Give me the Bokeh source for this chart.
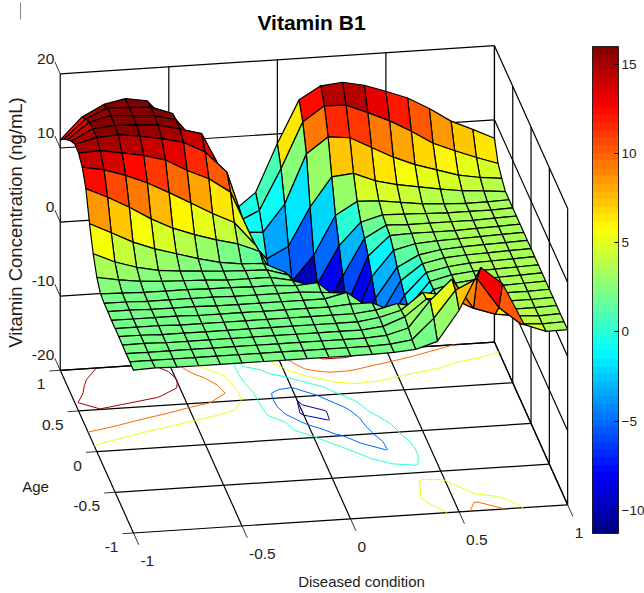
import numpy as np
from bokeh.plotting import figure
from bokeh.models import ColorBar, LinearColorMapper, FixedTicker
from bokeh.core.properties import value
from bokeh.embed import file_html
from bokeh.resources import INLINE

TITLE = "Vitamin B1"
X_LABEL = "Diseased condition"
Y_LABEL = "Age"
Z_LABEL = "Vitamin Concentration (ng/mL)"
x_ticks = [-1, -0.5, 0, 0.5, 1]
y_ticks = [-1, -0.5, 0, 0.5, 1]
z_ticks = [-20, -10, 0, 10, 20]
cbar_ticks = [-10, -5, 0, 5, 10, 15]
contour_levels = [-10, -5, 0, 5, 10, 15]
c_low, c_high = -11.3, 16.0

x_grid = [-1.0, -0.9, -0.8, -0.7, -0.6, -0.5, -0.4, -0.3, -0.2, -0.1, 0.0,
          0.1, 0.2, 0.3, 0.4, 0.5, 0.6, 0.7, 0.8, 0.9, 1.0]
y_grid = [1.0, 0.9, 0.8, 0.7, 0.6, 0.5, 0.4, 0.3, 0.2, 0.1, 0.0,
          -0.1, -0.2, -0.3, -0.4, -0.5, -0.6, -0.7, -0.8, -0.9, -1.0]

# concentration per age row (back to front), one value per condition column
z00 = [11.1, 14.0, 15.5, 16.1, 15.6, 12.5, 5.0, 1.8, 0.0, 2.3, 8.7, 14.4, 16.1, 16.4, 15.8, 14.8, 13.7, 12.1, 10.2, 8.9, 7.5]
z01 = [12.3, 14.8, 16.1, 16.0, 15.85, 14.8, 7.5, 3.0, -0.4, 0.95, 6.4, 12.5, 14.5, 14.4, 13.2, 11.9, 10.3, 8.5, 7.3, 6.2, 5.2]
z02 = [13.3, 15.5, 16.2, 16.0, 15.8, 15.05, 11.5, 6.5, -0.7, -0.9, 2.7, 9.3, 11.4, 11.1, 9.6, 8.1, 6.9, 6.0, 5.1, 4.6, 4.3]
z03 = [14.2, 15.7, 15.95, 15.85, 15.6, 14.9, 14.1, 8.5, 0.0, -3.4, -1.9, 3.2, 7.1, 7.4, 6.2, 5.5, 5.0, 4.5, 4.1, 3.9, 3.6]
z04 = [14.9, 15.6, 15.8, 15.4, 14.9, 14.2, 12.7, 9.8, 1.0, -4.7, -5.5, -2.2, 3.0, 4.7, 4.6, 4.2, 3.8, 3.6, 3.5, 3.5, 3.6]
z05 = [14.8, 14.95, 14.45, 13.9, 13.1, 11.5, 10.2, 8.2, 1.7, -5.5, -9.8, -5.0, 0.0, 3.0, 3.8, 3.7, 3.6, 3.5, 3.5, 3.5, 3.6]
z06 = [14.0, 13.45, 12.5, 11.3, 9.8, 8.2, 6.6, 5.2, 1.9, -5.2, -10.3, -8.0, -3.0, 1.9, 3.5, 3.4, 3.4, 3.4, 3.4, 3.5, 3.6]
z07 = [12.2, 10.85, 9.3, 7.55, 6.1, 5.05, 4.15, 3.4, 2.2, -3.5, -11.0, -10.4, -6.0, 0.6, 3.2, 3.3, 3.3, 3.3, 3.4, 3.5, 3.6]
z08 = [8.55, 7.15, 5.7, 4.6, 3.75, 2.9, 2.2, 1.8, 1.7, 0.3, -7.0, -10.1, -8.0, -1.1, 2.3, 3.0, 3.2, 3.3, 3.4, 3.5, 3.6]
z09 = [5.6, 4.3, 3.4, 2.8, 2.5, 2.3, 2.1, 2.0, 1.9, 1.0, -2.5, -7.5, -7.5, -2.9, 1.1, 2.6, 3.1, 3.3, 3.4, 3.5, 3.6]
z10 = [3.5, 3.0, 2.6, 2.4, 2.3, 2.2, 2.0, 2.0, 2.0, 1.4, 0.4, -4.0, -7.0, -4.3, 0.4, 2.5, 3.1, 3.3, 3.4, 3.5, 3.6]
z11 = [2.4, 2.3, 2.2, 2.2, 2.2, 2.1, 2.1, 2.0, 2.0, 1.8, 2.0, -0.5, -5.2, -5.0, -0.5, 2.4, 3.0, 3.3, 3.4, 3.5, 3.6]
z12 = [2.2, 2.2, 2.1, 2.1, 2.1, 2.1, 2.0, 2.0, 2.0, 2.0, 1.8, 1.5, -1.5, -5.2, -1.0, 2.3, 3.0, 3.3, 3.4, 3.5, 3.6]
z13 = [2.2, 2.2, 2.1, 2.1, 2.1, 2.0, 2.0, 2.0, 2.0, 2.0, 2.0, 2.7, 0.5, -2.5, -1.0, 2.3, 3.0, 3.3, 3.4, 3.5, 3.6]
z14 = [2.1, 2.1, 2.1, 2.1, 2.0, 2.0, 2.0, 2.0, 2.0, 2.0, 2.0, 2.2, 2.2, 0.8, -0.3, 2.3, 3.1, 3.3, 3.4, 3.5, 3.6]
z15 = [2.1, 2.1, 2.1, 2.0, 2.0, 2.0, 2.0, 2.0, 2.0, 2.0, 2.0, 2.0, 2.3, 3.0, 2.4, 3.0, 3.3, 3.4, 3.5, 3.5, 3.6]
z16 = [2.1, 2.1, 2.0, 2.0, 2.0, 2.0, 2.0, 2.0, 2.0, 2.0, 2.0, 2.0, 2.4, 3.2, 5.4, 4.9, 3.7, 3.5, 3.5, 3.5, 3.6]
z17 = [2.05, 2.1, 2.0, 2.0, 2.0, 2.0, 2.0, 2.0, 2.0, 2.0, 2.0, 2.0, 2.3, 3.4, 5.6, 5.8, 4.2, 3.6, 3.5, 3.5, 3.6]
z18 = [2.0, 2.0, 2.0, 2.0, 2.0, 2.0, 2.0, 2.0, 2.0, 2.0, 2.0, 2.0, 2.2, 3.0, 6.5, 9.2, 5.1, 4.1, 3.7, 3.5, 3.6]
z19 = [2.0, 2.0, 2.0, 2.0, 2.0, 2.0, 2.0, 2.0, 2.0, 2.0, 2.0, 2.0, 2.1, 2.5, 5.2, 8.8, 10.2, 6.1, 3.7, 3.5, 3.6]
z20 = [1.97, 2.1, 2.0, 2.0, 2.0, 2.0, 2.0, 2.0, 2.0, 2.0, 2.0, 2.0, 2.1, 2.3, 3.2, 7.2, 12.8, 10.4, 4.7, 3.6, 3.65]

Z = np.array([z00, z01, z02, z03, z04, z05, z06, z07, z08, z09, z10,
              z11, z12, z13, z14, z15, z16, z17, z18, z19, z20])
gx = np.array(x_grid)
gy = np.array(y_grid)


# orthographic view of the data box, in page pixels
def proj(x, y, z):
    x, y, z = np.asarray(x, float), np.asarray(y, float), np.asarray(z, float)
    return (313.45 + 217.1 * x - 36.6 * y,
            288.83 - 14.1 * x - 81.35 * y - 7.41 * z)


def jet_hex(t):
    t = min(max(t, 0.0), 1.0)
    r = min(max(min(4 * t - 1.5, -4 * t + 4.5), 0), 1)
    g = min(max(min(4 * t - 0.5, -4 * t + 3.5), 0), 1)
    b = min(max(min(4 * t + 0.5, -4 * t + 2.5), 0), 1)
    return "#%02x%02x%02x" % (round(r * 255), round(g * 255), round(b * 255))


palette = [jet_hex((i + 0.5) / 64) for i in range(64)]


def color_of(z):
    i = int((z - c_low) / (c_high - c_low) * 64)
    return palette[min(max(i, 0), 63)]


p = figure(width=644, height=593, x_range=(0, 644), y_range=(593, 0),
           toolbar_location=None, output_backend="svg", min_border=0)
p.xaxis.visible = False
p.yaxis.visible = False
p.grid.visible = False
p.outline_line_color = None

FONT = value("Liberation Sans")
TXT = "#1c1c1c"


def line3(pairs, color="black", width=1.2):
    xs, ys = [], []
    for a, b in pairs:
        sx, sy = proj([a[0], b[0]], [a[1], b[1]], [a[2], b[2]])
        xs.append(list(sx))
        ys.append(list(sy))
    p.multi_line(xs, ys, line_color=color, line_width=width)


zb, zt = z_ticks[0], z_ticks[-1]
box = []
for t in x_ticks:
    box.append(((t, -1, zb), (t, 1, zb)))          # floor
    box.append(((t, 1, zb), (t, 1, zt)))           # back wall
for t in y_ticks:
    box.append(((-1, t, zb), (1, t, zb)))          # floor
    box.append(((1, t, zb), (1, t, zt)))           # right wall
for t in z_ticks:
    box.append(((-1, 1, t), (1, 1, t)))            # back wall
    box.append(((1, 1, t), (1, -1, t)))            # right wall
line3(box)

stubs = []
for t in x_ticks:
    stubs.append(((t, -1, zb), (t, -1.145, zb)))
for t in y_ticks:
    stubs.append(((-1, t, zb), (-1.05, t, zb)))
for t in z_ticks:
    stubs.append(((-1, 1, t), (-1, 1.147, t)))
line3(stubs, width=0.8)


# contours on the floor, computed from the grid
def contour_segments(level):
    level = level + 1e-4
    segs = []
    for r in range(Z.shape[0] - 1):
        for j in range(Z.shape[1] - 1):
            corners = [(gx[j], gy[r], Z[r, j]), (gx[j + 1], gy[r], Z[r, j + 1]),
                       (gx[j + 1], gy[r + 1], Z[r + 1, j + 1]), (gx[j], gy[r + 1], Z[r + 1, j])]
            pts = []
            for k in range(4):
                a, b = corners[k], corners[(k + 1) % 4]
                if (a[2] - level) * (b[2] - level) < 0:
                    f = (level - a[2]) / (b[2] - a[2])
                    pts.append((a[0] + f * (b[0] - a[0]), a[1] + f * (b[1] - a[1])))
            for k in range(0, len(pts) - 1, 2):
                segs.append((pts[k], pts[k + 1]))
    return segs


for lv in contour_levels:
    xs, ys = [], []
    for a, b in contour_segments(lv):
        sx, sy = proj([a[0], b[0]], [a[1], b[1]], [zb, zb])
        xs.append(list(sx))
        ys.append(list(sy))
    p.multi_line(xs, ys, line_color=color_of(lv), line_width=1.0)

# surface: back rows first, far (right) columns first
fx, fy, fc = [], [], []
for r in range(Z.shape[0] - 1):
    for j in range(Z.shape[1] - 2, -1, -1):
        cx = [gx[j], gx[j + 1], gx[j + 1], gx[j]]
        cy = [gy[r], gy[r], gy[r + 1], gy[r + 1]]
        cz = [Z[r, j], Z[r, j + 1], Z[r + 1, j + 1], Z[r + 1, j]]
        sx, sy = proj(cx, cy, cz)
        fx.append(list(sx))
        fy.append(list(sy))
        fc.append(color_of(Z[r + 1, j]))
p.patches(fx, fy, fill_color=fc, line_color="black", line_width=1.2)

# tick labels
sx, sy = proj(x_ticks, [-1] * 5, [zb] * 5)
p.text(sx + 7, sy + 28, text=[f"{t:g}" for t in x_ticks], text_font=FONT, text_font_size="15.5px",
       text_align="left", text_baseline="middle", text_color=TXT)
sx, sy = proj([-1] * 5, y_ticks, [zb] * 5)
p.text(sx - 15, sy + 14, text=[f"{t:g}" for t in y_ticks], text_font=FONT, text_font_size="15.5px",
       text_align="right", text_baseline="middle", text_color=TXT)
sx, sy = proj([-1] * 5, [1] * 5, z_ticks)
p.text(sx - 6, sy - 15, text=[f"{t:g}" for t in z_ticks], text_font=FONT, text_font_size="15.5px",
       text_align="right", text_baseline="middle", text_color=TXT)

# titles
p.text([311], [22], text=[TITLE], text_font=FONT, text_font_size="21px", text_font_style="bold",
       text_align="center", text_baseline="middle", text_color="black")
p.text([361], [581], text=[X_LABEL], text_font=FONT, text_font_size="15px",
       text_align="center", text_baseline="middle", text_color=TXT)
p.text([35], [486], text=[Y_LABEL], text_font=FONT, text_font_size="15px",
       text_align="center", text_baseline="middle", text_color=TXT)
p.text([15], [222], text=[Z_LABEL], angle=[np.pi / 2], text_font=FONT, text_font_size="18.5px",
       text_align="center", text_baseline="middle", text_color=TXT)

# stray mark at the top of the page
p.segment([20], [2], [20], [19], line_color="#888888", line_width=1)

# colour bar
mapper = LinearColorMapper(palette=palette, low=c_low, high=c_high)
bar = ColorBar(color_mapper=mapper, ticker=FixedTicker(ticks=cbar_ticks), width=26, height=487,
               location=(592, 60), padding=0, margin=0, border_line_color=None,
               background_fill_alpha=0, bar_line_color="black", bar_line_width=0.8,
               major_tick_line_color="black", major_tick_in=4, major_tick_out=0, minor_tick_line_color=None,
               major_label_text_font="Liberation Sans", major_label_text_font_size="13.5px",
               major_label_text_color=TXT, label_standoff=3)
p.add_layout(bar, "center")
tick_y = 533 - (np.array(cbar_ticks) - c_low) / (c_high - c_low) * 487
p.segment([592] * 6, tick_y, [596] * 6, tick_y, line_color="black", line_width=1)

open("out.html", "w").write(file_html(p, INLINE))
